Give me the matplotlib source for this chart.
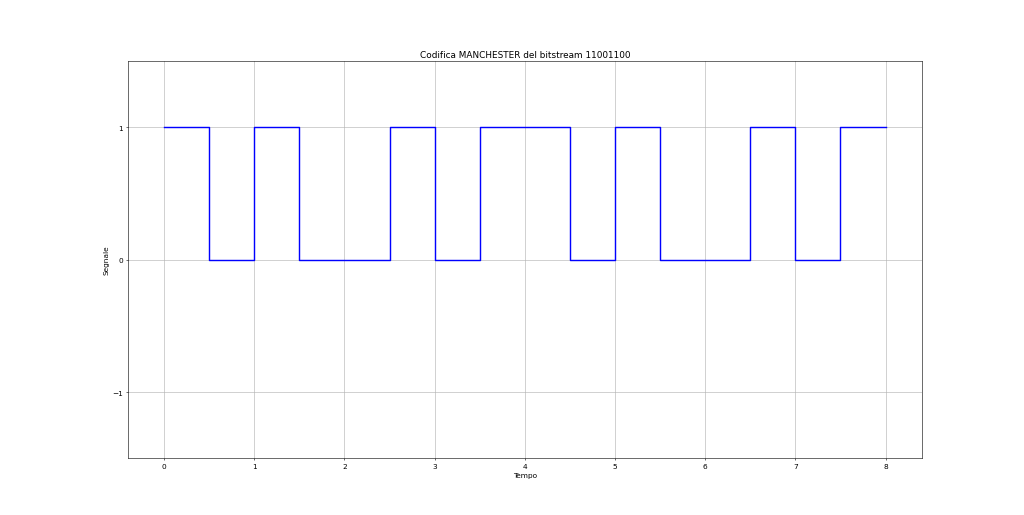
import matplotlib
matplotlib.use("Agg")
import matplotlib.pyplot as plt

bitstream = "11001100"
times = [0, 0.5, 1, 1.5, 2, 2.5, 3, 3.5, 4, 4.5, 5, 5.5, 6, 6.5, 7, 7.5, 8]
signal = [1, 0, 1, 0, 0, 1, 0, 1, 1, 0, 1, 0, 0, 1, 0, 1, 1]

plt.rcParams['font.size'] = 10.4
fig = plt.figure(figsize=(20, 10.078), dpi=51.2)
ax = fig.add_subplot(111)
ax.step(times, signal, where='post', color='blue', linewidth=2)
ax.set_ylim(-1.5, 1.5)
ax.set_yticks([-1, 0, 1])
ax.set_xlabel('Tempo')
ax.set_ylabel('Segnale')
ax.set_title('Codifica MANCHESTER del bitstream ' + bitstream)
ax.grid(True)
fig.savefig('out.png', dpi=51.2)
